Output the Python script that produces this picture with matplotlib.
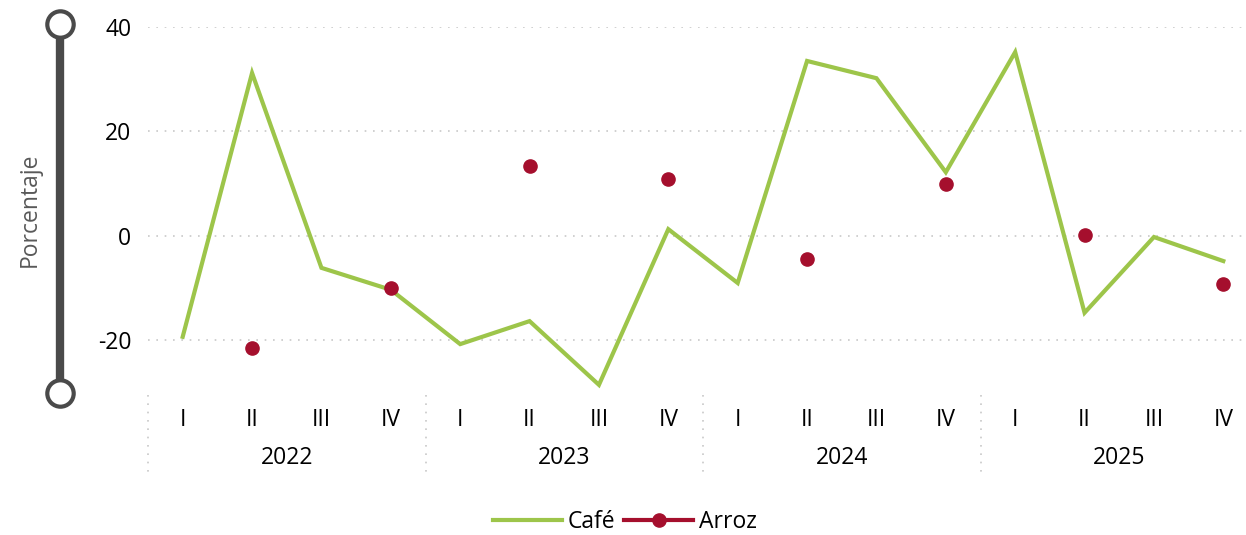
import numpy as np
import matplotlib.pyplot as plt
from matplotlib.lines import Line2D
import matplotlib.transforms as mtransforms

plt.rcParams['font.family'] = ['Open Sans', 'DejaVu Sans']

years = ['2022', '2023', '2024', '2025']
quarters = ['I', 'II', 'III', 'IV']
cafe = [-19.3, 31.2, -6.1, -10.3,
        -20.7, -16.3, -28.5, 1.3,
        -9.0, 33.5, 30.2, 12.2,
        35.2, -14.7, -0.2, -4.8]
arroz = [np.nan, -21.4, np.nan, -10.0,
         np.nan, 13.4, np.nan, 10.9,
         np.nan, -4.4, np.nan, 10.0,
         np.nan, 0.2, np.nan, -9.2]

GREEN = '#9dc54a'
RED = '#a50f2d'
DARK = '#4a4a4a'
FS = 16.5

W, H = 1246, 535
fig = plt.figure(figsize=(W / 100, H / 100), dpi=100)
ax = fig.add_axes([148 / W, 1 - 392.7 / H, (1258 - 148) / W, (392.7 - 27) / H])

x = np.arange(len(cafe))
ax.plot(x, cafe, color=GREEN, lw=3, label='Café', solid_joinstyle='miter', zorder=3)
ax.plot(x, arroz, color=RED, lw=3, marker='o', ms=9.5, label='Arroz', zorder=4)

ax.set_xlim(-0.5, len(cafe) - 0.5)
ax.set_ylim(-30, 40)
ax.set_yticks([-20, 0, 20, 40])
ax.set_yticklabels(['-20', '0', '20', '40'], fontsize=FS)
ax.tick_params(axis='y', length=0, pad=12)
ax.grid(axis='y', color='#c8c8c8', linestyle=(0, (1, 4)), lw=1.2)
for s in ax.spines.values():
    s.set_visible(False)

ax.set_xticks(x)
ax.set_xticklabels(quarters * len(years), fontsize=FS)
ax.tick_params(axis='x', length=0, pad=11)

# year labels and separators below the axis
trans = mtransforms.blended_transform_factory(ax.transData, fig.transFigure)
for i, yr in enumerate(years):
    ax.text(i * 4 + 1.5, 1 - 458 / H, yr, transform=trans, ha='center',
            va='center', fontsize=FS)
for i in range(len(years) + 1):
    ax.add_line(Line2D([i * 4 - 0.5, i * 4 - 0.5], [1 - 395 / H, 1 - 478 / H],
                       transform=trans, color='#c8c8c8', lw=1.2,
                       linestyle=(0, (1, 4)), clip_on=False))

# decorative vertical axis bar
bx = 60 / W
fig.add_artist(Line2D([bx, bx], [1 - 24 / H, 1 - 393 / H], transform=fig.transFigure,
                      color=DARK, lw=6, solid_capstyle='butt'))
fig.add_artist(Line2D([bx, bx], [1 - 24 / H, 1 - 393 / H], transform=fig.transFigure,
                      ls='none', marker='o', ms=19, mfc='white', mec=DARK, mew=3))
fig.text(30 / W, 1 - 210 / H, 'Porcentaje', rotation=90, ha='center', va='center',
         fontsize=16.5, color='#595959')

fig.legend(loc='center', bbox_to_anchor=(625 / W, 1 - 522 / H), ncol=2, frameon=False,
           fontsize=FS, handlelength=3.0, handletextpad=0.25, columnspacing=0.4,
           borderpad=0.1)

fig.savefig('out.png', dpi=100)
